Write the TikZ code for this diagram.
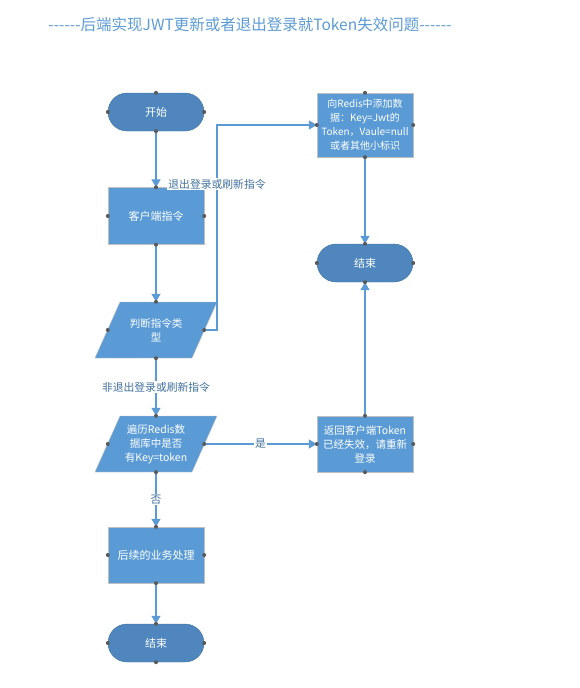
\documentclass[tikz,border=0pt]{standalone}
\usepackage{fontspec}
\setmainfont{Noto Sans CJK SC}[Ligatures=TeXOff]
\usepackage{tikz}
\usetikzlibrary{arrows.meta}
\definecolor{boxblue}{HTML}{5B9BD5}
\definecolor{termblue}{HTML}{4E86BD}
\definecolor{termline}{HTML}{41719C}
\definecolor{labelblue}{HTML}{41719C}
\definecolor{dotgray}{HTML}{5A5A5A}

\begin{document}
\begin{tikzpicture}[x=1pt,y=-1pt]
\useasboundingbox (0,0) rectangle (580,688);
\node[text=boxblue,font=\fontsize{15.5}{18}\selectfont] (title) at (250,25)
    {------后端实现JWT更新或者退出登录就Token失效问题------};

% parallelogram bodies behind the decision nodes
\foreach \y in {330,444}
    \filldraw[fill=boxblue,draw=gray!50] (120,{\y-28}) -- (217,{\y-28}) -- (192,{\y+28}) -- (95,{\y+28}) -- cycle;

\begin{scope}[every node/.style={rectangle,rounded corners=19pt,draw=termline,fill=termblue,
              text=white,minimum width=96pt,minimum height=38pt,font=\fontsize{11}{13}\selectfont}]
    \node (S) at (156,112) {开始};
    \node (E1) at (365,263) {结束};
    \node (E2) at (156,643) {结束};
\end{scope}
\begin{scope}[every node/.style={rectangle,draw=gray!50,fill=boxblue,text=white,align=center,
              minimum width=96pt,inner sep=1pt,font=\fontsize{10.5}{14}\selectfont}]
    \node[minimum height=57pt,font=\fontsize{11}{14}\selectfont] (C) at (156,216) {客户端指令};
    \node[minimum height=64pt,font=\fontsize{10}{14}\selectfont] (A) at (365,125) {向Redis中添加数\\据：Key=Jwt的\\Token，Vaule=null\\或者其他小标识};
    \node[minimum height=56pt] (R) at (365,444) {返回客户端Token\\已经失效，请重新\\登录};
    \node[minimum height=56pt,font=\fontsize{11}{14}\selectfont] (P) at (156,555) {后续的业务处理};
\end{scope}
\begin{scope}[every node/.style={rectangle,text=white,align=center,
              minimum width=96pt,minimum height=56pt,inner sep=0pt,font=\fontsize{10.5}{14}\selectfont}]
    \node (J) at (156,330) {判断指令类\\型};
    \node (T) at (156,444) {遍历Redis数\\据库中是否\\有Key=token};
\end{scope}

\coordinate (Jr) at (217,330);
\begin{scope}[>={Triangle[width=9pt,length=8pt]},
              link/.style={draw=boxblue,line width=1.3pt},
              every node/.style={fill=white,text=labelblue,inner sep=1pt,font=\fontsize{10.8}{12}\selectfont},
              every edge/.style={link}]
    \path [->] (S) edge (C);
    \path [->] (C) edge (J);
    \draw [link,->] (J.east) -- (Jr) |- node[pos=0.356] {退出登录或刷新指令} (A.west);
    \path [->] (J) edge node {非退出登录或刷新指令} (T);
    \path [->] (T) edge node {是} (R);
    \path [->] (T) edge node {否} (P);
    \path [->] (P) edge (E2);
    \path [->] (A) edge (E1);
    \path [->] (R) edge (E1);
\end{scope}

\foreach \n in {S,C,J,T,P,E2,A,E1,R}
    \foreach \a in {north,south,east,west}
        \fill[dotgray] (\n.\a) circle (2pt);
\end{tikzpicture}
\end{document}
